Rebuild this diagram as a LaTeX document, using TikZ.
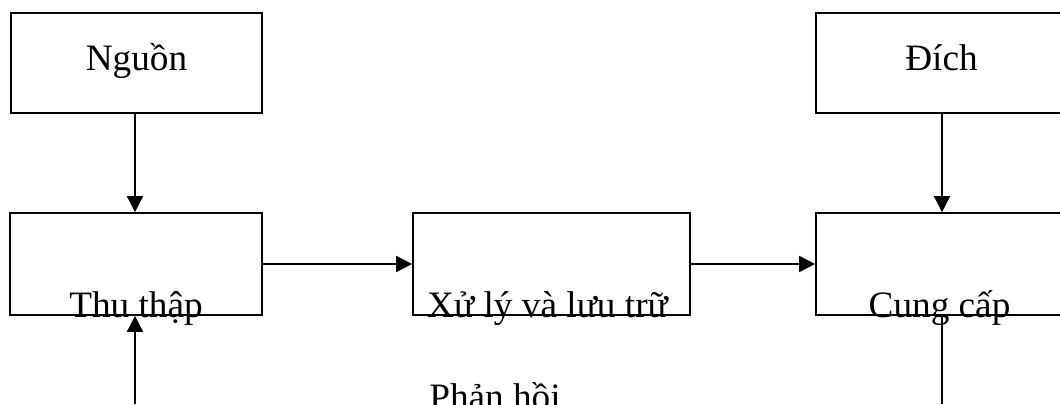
\documentclass[tikz,border=0pt]{standalone}
\usepackage{fontspec}
\setmainfont{Liberation Serif}
\usetikzlibrary{arrows.meta}

\tikzset{
  box/.style={draw, rectangle, inner sep=0pt},
  lbl/.style={anchor=base, inner sep=0pt, font=\fontsize{26.5}{32}\selectfont},
  flow/.style={-{Triangle[length=0.400cm,width=0.400cm]}}
}

\begin{document}
\begin{tikzpicture}[line width=1.2pt]
\useasboundingbox (0.000,0.000) rectangle (26.500,10.100);
\node[box, minimum width=6.275cm, minimum height=2.500cm] (src) at (3.413,8.525) {};
\node[box, minimum width=6.300cm, minimum height=2.550cm] (collect) at (3.400,3.500) {};
\node[box, minimum width=6.925cm, minimum height=2.550cm] (store) at (13.788,3.500) {};
\node[box, minimum width=6.275cm, minimum height=2.550cm] (supply) at (23.538,3.500) {};
\node[box, minimum width=6.275cm, minimum height=2.500cm] (dest) at (23.538,8.525) {};
\node[lbl] (srct) at (3.413,8.325) {Nguồn};
\node[lbl] (destt) at (23.538,8.325) {Đích};
\node[lbl] (collectt) at (3.400,2.175) {Thu thập};
\node[lbl] (storet) at (13.688,2.175) {Xử lý và lưu trữ};
\node[lbl] (supplyt) at (23.488,2.175) {Cung cấp};
\node[lbl] (fbt) at (12.375,-0.125) {Phản hồi};
\coordinate (fbl) at (3.375,0.000);
\coordinate (fbr) at (23.550,0.000);
\draw[flow] (src.south -| fbl) -- (collect.north -| fbl);
\draw[flow] (collect.east) -- (store.west);
\draw[flow] (store.east) -- (supply.west);
\draw[flow] (dest.south -| fbr) -- (supply.north -| fbr);
\draw[flow] (fbl) -- (collect.south -| fbl);
\draw (supply.south -| fbr) -- (fbr);
\end{tikzpicture}
\end{document}
